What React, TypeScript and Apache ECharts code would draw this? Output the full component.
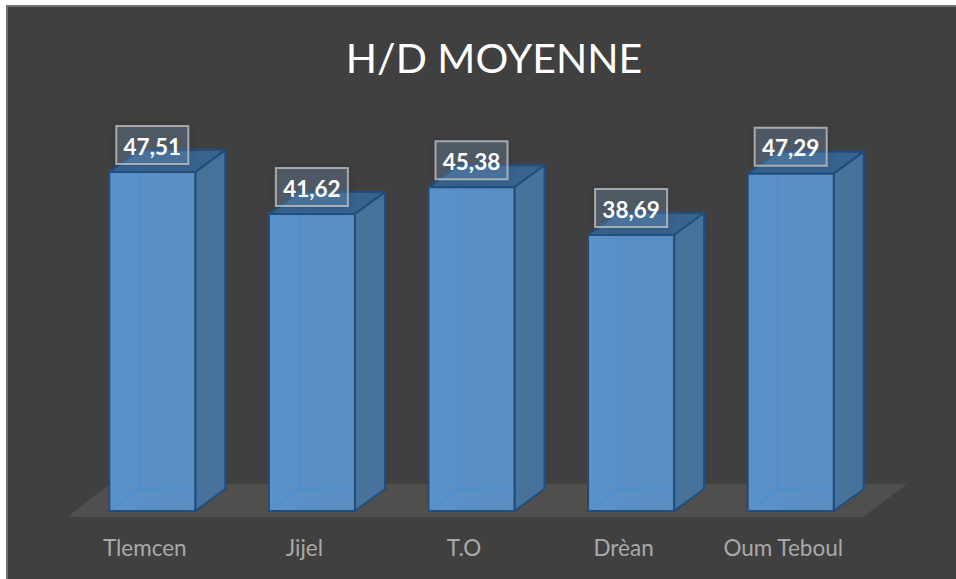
import React, { useEffect, useRef } from "react";
import * as echarts from "echarts";

const categories = ["Tlemcen", "Jijel", "T.O", "Drèan", "Oum Teboul"];
const values = [47.51, 41.62, 45.38, 38.69, 47.29];
const titleText = "H/D MOYENNE";

const FONT = "Lato";
const BAR_W = 86;
const SHIFT = 7.5;
const DX = 30;
const DY = 22;

function renderBar(params: any, api: any) {
  const i = api.value(0);
  const v = api.value(1);
  const top = api.coord([i, v]);
  const base = api.coord([i, 0]);
  const l = top[0] - BAR_W / 2 + SHIFT;
  const r = l + BAR_W;
  const t = top[1];
  const b = base[1];
  const edge = { stroke: "#1f4e7d", lineWidth: 2, lineJoin: "round" };
  const inner = { stroke: "#4a8ed6", lineWidth: 1.5, fill: "none" };
  const lw = 72, lh = 38;
  const lx = l + BAR_W / 2 - lw / 2;
  const ly = t - 27 - lh / 2;
  return {
    type: "group",
    children: [
      { type: "polygon", shape: { points: [[l, t], [r, t], [r + DX, t - DY], [l + DX, t - DY]] }, style: { fill: "#38638f", ...edge } },
      { type: "polygon", shape: { points: [[r, t], [r + DX, t - DY], [r + DX, b - DY], [r, b]] }, style: { fill: "#47729c", ...edge } },
      {
        type: "rect",
        shape: { x: l, y: t, width: BAR_W, height: b - t },
        style: {
          fill: { type: "linear", x: 0, y: 0, x2: 1, y2: 0, colorStops: [{ offset: 0, color: "#5a92cb" }, { offset: 0.5, color: "#5a8fc5" }, { offset: 1, color: "#5b8dc0" }] },
          ...edge,
        },
      },
      { type: "line", shape: { x1: l + DX, y1: t + 1, x2: l + DX, y2: b - DY }, style: inner },
      { type: "line", shape: { x1: l + DX, y1: b - DY, x2: r - 1, y2: b - DY }, style: inner },
      { type: "line", shape: { x1: l + 1, y1: b - 1, x2: l + DX, y2: b - DY }, style: inner },
      {
        type: "rect",
        shape: { x: lx, y: ly, width: lw, height: lh },
        style: { fill: "rgba(120,160,200,0.25)", stroke: "rgba(190,190,190,0.8)", lineWidth: 2, shadowBlur: 8, shadowColor: "rgba(0,0,0,0.3)" },
      },
      {
        type: "text",
        style: {
          x: lx + lw / 2,
          y: ly + lh / 2 + 1,
          text: v.toFixed(2).replace(".", ","),
          fill: "#ffffff",
          font: `bold 22.5px ${FONT}`,
          align: "center",
          verticalAlign: "middle",
        },
      },
    ],
  };
}

function renderFloor(params: any, api: any) {
  const cs = params.coordSys;
  const b = cs.y + cs.height;
  const l = cs.x;
  const r = cs.x + cs.width;
  return {
    type: "polygon",
    silent: true,
    shape: { points: [[l + 2, b + 6], [r, b + 6], [r + 44, b - 27], [l + 45, b - 27]] },
    style: { fill: "#514e4e" },
  };
}

export default function App() {
  const ref = useRef<HTMLDivElement>(null);
  useEffect(() => {
    document.body.style.margin = "0";
    const chart = echarts.init(ref.current!, undefined, { renderer: "svg" });
    chart.setOption({
      animation: false,
      backgroundColor: "#ffffff",
      graphic: [
        {
          type: "rect",
          z: -10,
          silent: true,
          shape: { x: 7, y: 6, width: 970, height: 600 },
          style: { fill: "#404040", stroke: "#707070", lineWidth: 2 },
        },
      ],
      title: {
        text: titleText,
        left: 489,
        top: 32,
        textAlign: "center",
        textStyle: { color: "#ffffff", fontFamily: FONT, fontWeight: "normal", fontSize: 41 },
      },
      grid: { left: 65, width: 798, top: 83, height: 428 },
      xAxis: {
        type: "category",
        data: categories,
        axisLine: { show: false },
        axisTick: { show: false },
        axisLabel: { color: "#a9a9a9", fontFamily: FONT, fontSize: 22.5, margin: 25 },
      },
      yAxis: { type: "value", min: 0, max: 60, show: false, splitLine: { show: false } },
      series: [
        {
          type: "custom",
          coordinateSystem: "cartesian2d",
          clip: false,
          silent: true,
          z: 1,
          data: [[0, 0]],
          encode: { x: 0, y: 1 },
          renderItem: renderFloor,
        },
        {
          type: "custom",
          coordinateSystem: "cartesian2d",
          clip: false,
          silent: true,
          z: 2,
          data: values.map((v, i) => [i, v]),
          encode: { x: 0, y: 1 },
          renderItem: renderBar,
        },
      ],
    });
    return () => chart.dispose();
  }, []);
  return <div ref={ref} style={{ position: "absolute", left: 0, top: 0, width: 956, height: 579 }} />;
}
